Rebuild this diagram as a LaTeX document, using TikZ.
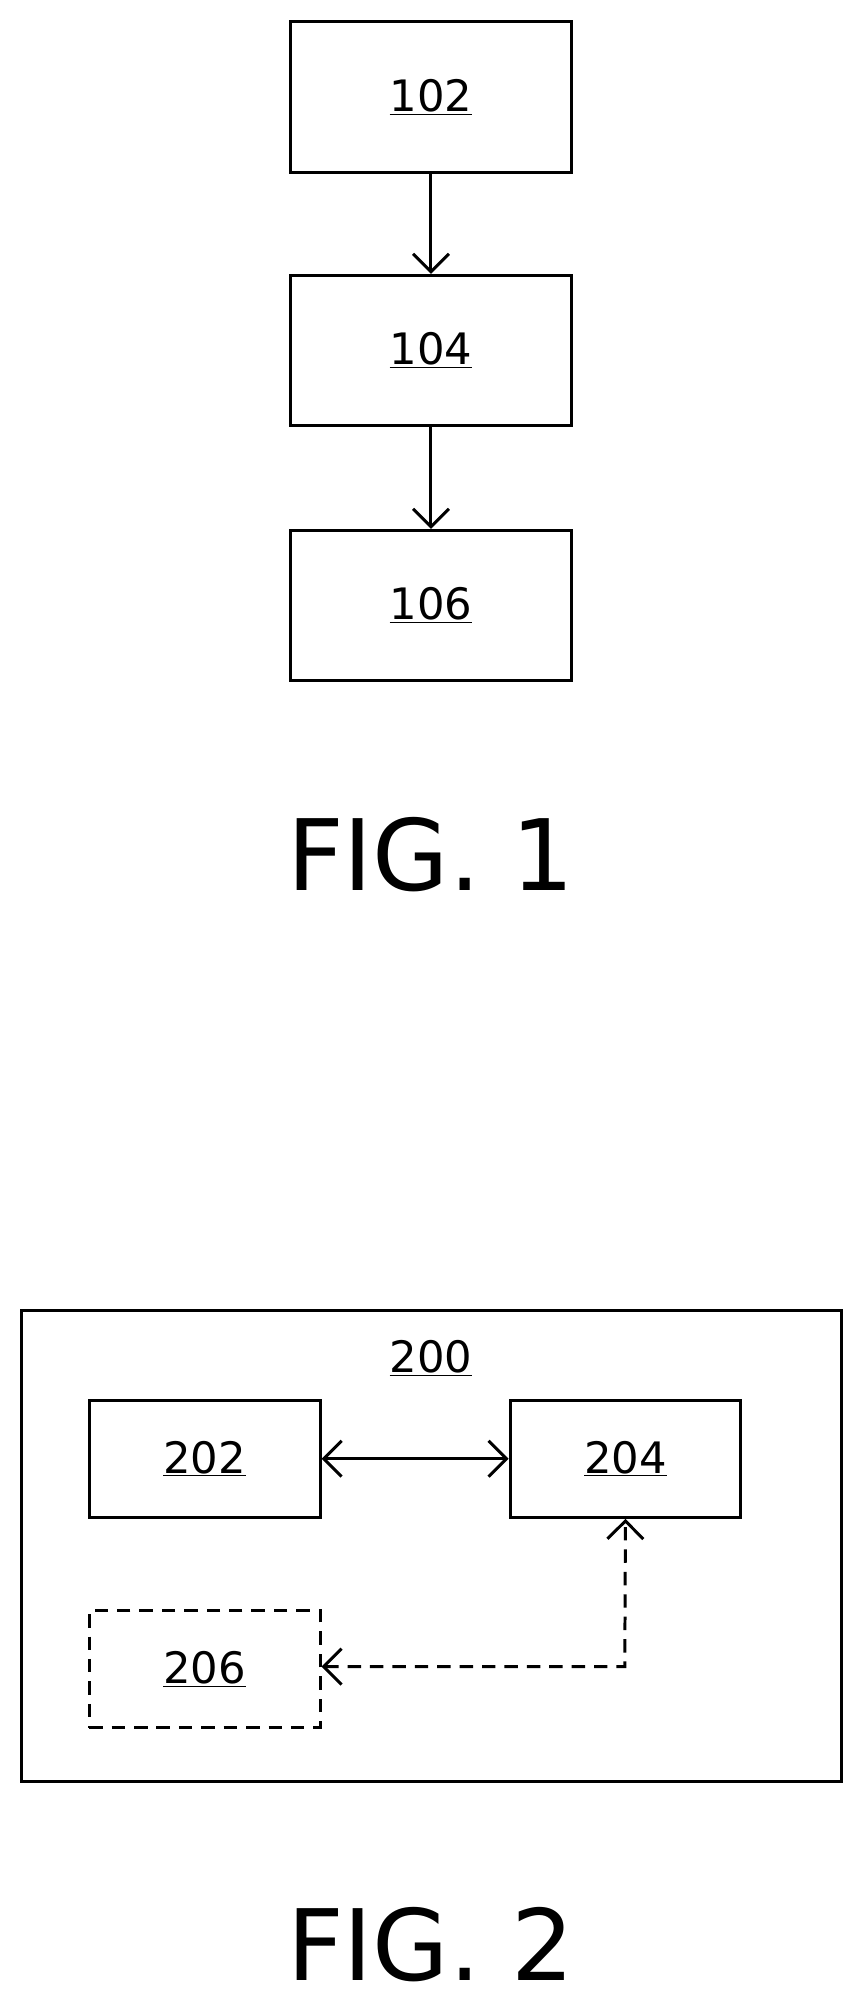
\documentclass[tikz,border=0pt]{standalone}
\usepackage{fontspec}
\setmainfont{DejaVu Sans}
\usetikzlibrary{positioning}
\usetikzlibrary{arrows.meta}

\tikzset{
  box/.style={draw, line width=2pt, minimum width=181*0.3mm, minimum height=92*0.3mm, inner sep=0pt,
    font=\fontsize{29}{34}\selectfont},
  bigbox/.style={box, minimum width=220*0.3mm, minimum height=118*0.3mm},
  arr/.style={->, line width=2pt, >={Straight Barb[length=12pt,width=24pt]}},
  figlabel/.style={font=\fontsize{66}{74}\selectfont}
}

\begin{document}
\begin{tikzpicture}[x=0.3mm, y=-0.3mm]
\useasboundingbox (0,0) rectangle (680,1574);

% FIG. 1
\node[bigbox] (b102) at (338,76) {\underline{102}};
\node[bigbox] (b104) at (338,275) {\underline{104}};
\node[bigbox] (b106) at (338,475) {\underline{106}};
\draw[arr] (b102) -- (b104);
\draw[arr] (b104) -- (b106);
\node[figlabel] (fig1) at (338,670) {FIG. 1};

% FIG. 2
\node[draw, line width=2pt, minimum width=643*0.3mm, minimum height=369*0.3mm] (b200) at (338.5,1212.5) {};
\node[font=\fontsize{29}{34}\selectfont] (t200) at (338,1065) {\underline{200}};
\node[box] (b202) at (160.5,1144) {\underline{202}};
\node[box] (b204) at (490.5,1144) {\underline{204}};
\node[box, dash pattern=on 9pt off 6pt] (b206) at (160.5,1309) {\underline{206}};
\draw[arr, <->] (b202) -- (b204);
\coordinate (bend) at (490,1307);
\draw[arr, <->, dash pattern=on 9pt off 6pt] (b206.east |- bend) -- (bend) -- (b204.south);
\node[figlabel] (fig2) at (338,1525) {FIG. 2};
\end{tikzpicture}
\end{document}
